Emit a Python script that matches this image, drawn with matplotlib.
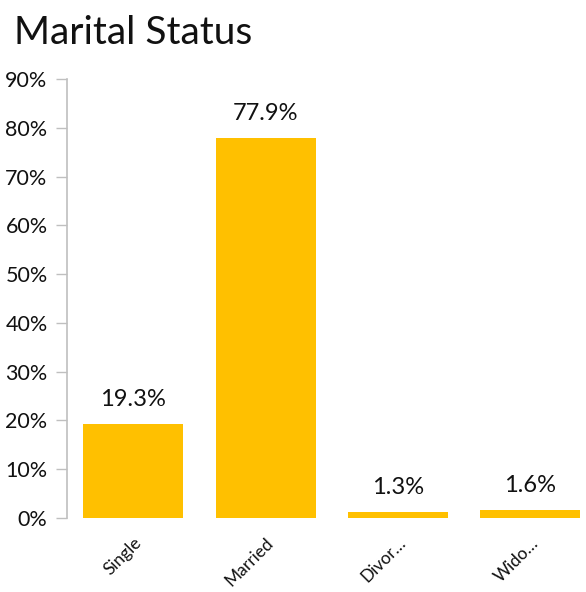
import matplotlib
matplotlib.use("Agg")
import matplotlib.pyplot as plt
from matplotlib.ticker import FuncFormatter

categories = ["Single", "Married", "Divor\u2026", "Wido\u2026"]
values = [19.3, 77.9, 1.3, 1.6]
value_labels = ["19.3%", "77.9%", "1.3%", "1.6%"]

bar_color = "#FFC000"
axis_grey = "#BFBFBF"

plt.rcParams["font.family"] = ["Lato", "DejaVu Sans"]

fig = plt.figure(figsize=(5.86, 5.92), dpi=100)
ax = fig.add_axes([0.1143, 0.125, 0.8857, 0.7416])

x = list(range(len(categories)))
ax.bar(x, values, width=0.755, color=bar_color)

for xi, v, lab in zip(x, values, value_labels):
    ax.annotate(lab, (xi, v), xytext=(0, 10), textcoords="offset points",
                ha="center", va="bottom", fontsize=17, color="#111111")

ax.set_xlim(-0.5, 3.42)
ax.set_ylim(0, 90)
ax.set_yticks(range(0, 91, 10))
ax.yaxis.set_major_formatter(FuncFormatter(lambda v, p: "%d%%" % v))
ax.tick_params(axis="y", direction="out", length=8, width=1, color=axis_grey,
               labelsize=15.5, labelcolor="#111111", pad=6)

ax.set_xticks(x)
ax.set_xticklabels(categories, rotation=45, ha="right", rotation_mode="anchor",
                   fontsize=12.5, color="#111111")
ax.tick_params(axis="x", length=0, pad=12)

for s in ["top", "right", "bottom"]:
    ax.spines[s].set_visible(False)
ax.spines["left"].set_color(axis_grey)
ax.spines["left"].set_linewidth(1.2)

fig.text(0.024, 0.925, "Marital Status", fontsize=28, color="#111111",
         ha="left", va="baseline")

fig.savefig("out.png", dpi=100)
